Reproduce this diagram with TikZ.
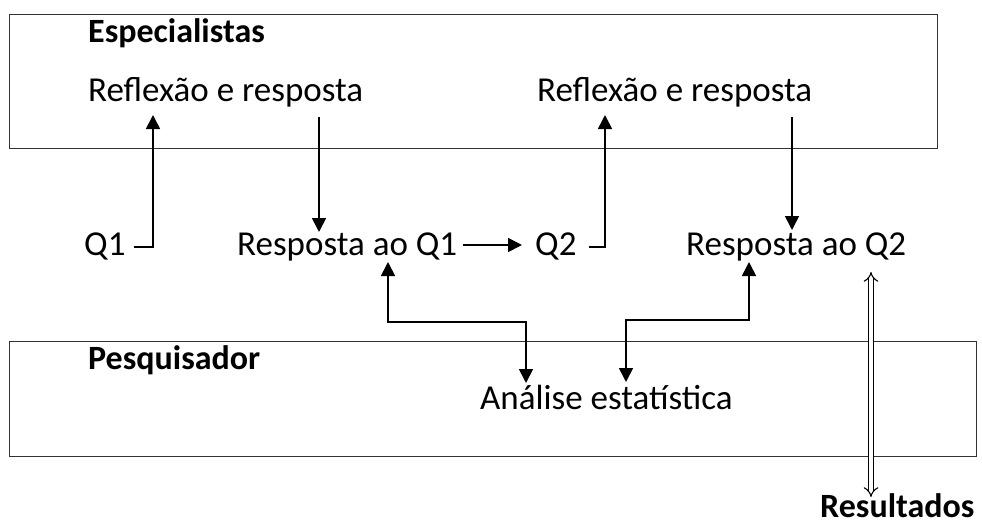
\documentclass[tikz,border=0pt]{standalone}
\usepackage{fontspec}
\setmainfont{Carlito}
\usetikzlibrary{arrows.meta}
\begin{document}
\begin{tikzpicture}[x=1pt,y=-1pt,
  box/.style={draw=black!80, line width=1.3pt, inner sep=0pt, anchor=north west},
  txt/.style={inner sep=0pt, anchor=base west, font=\fontsize{35}{42}\selectfont},
  btxt/.style={inner sep=0pt, anchor=base west, font=\fontsize{34}{40}\selectfont\bfseries},
  arr/.style={line width=1.7pt, -{Triangle[width=14pt,length=14pt]}},
  darr/.style={line width=1.7pt, {Triangle[width=14pt,length=14pt]}-{Triangle[width=14pt,length=14pt]}},
  dbl/.style={line width=1.1pt, double, double distance=4pt, {Implies[]}-{Implies[]}}]
\useasboundingbox (0,0) rectangle (982,525);
% boxes
\node[box, minimum width=928pt, minimum height=134pt] (spbox) at (9,14) {};
\node[box, minimum width=967pt, minimum height=115pt] (pqbox) at (9,341) {};
% labels
\node[btxt] (esp) at (88,42) {Especialistas};
\node[txt] (refl1) at (88,101) {Reflexão e resposta};
\node[txt] (refl2) at (537,101) {Reflexão e resposta};
\node[txt] (q1) at (84,255) {Q1};
\node[txt] (r1) at (237,255) {Resposta ao Q1};
\node[txt] (q2) at (535,255) {Q2};
\node[txt] (r2) at (686,255) {Resposta ao Q2};
\node[btxt] (pesq) at (88,369) {Pesquisador};
\node[txt] (ana) at (480,409) {Análise estatística};
\node[btxt] (res) at (820,517) {Resultados};
% connectors
\draw[arr] ([shift={(8pt,8pt)}]q1.base east) -| ([shift={(65pt,-14pt)}]refl1.base west);
\draw[arr] ([shift={(231pt,-16pt)}]refl1.base west) -- ([shift={(82pt,23pt)}]r1.base west);
\draw[arr] ([shift={(6pt,10pt)}]r1.base east) -- ([shift={(-13pt,10pt)}]q2.base west);
\draw[arr] ([shift={(12pt,8pt)}]q2.base east) -| ([shift={(68pt,-14pt)}]refl2.base west);
\draw[arr] ([shift={(255pt,-16pt)}]refl2.base west) -- ([shift={(106pt,25pt)}]r2.base west);
\draw[darr] ([shift={(151pt,-7pt)}]r1.base west) -- ++(0,60) -| ([shift={(46pt,26pt)}]ana.base west);
\draw[darr] ([shift={(63pt,-7pt)}]r2.base west) -- ++(0,58) -| ([shift={(146pt,27pt)}]ana.base west);
\draw[dbl] ([shift={(185pt,-17pt)}]r2.base west) -- ([shift={(51pt,20pt)}]res.base west);
\end{tikzpicture}
\end{document}
